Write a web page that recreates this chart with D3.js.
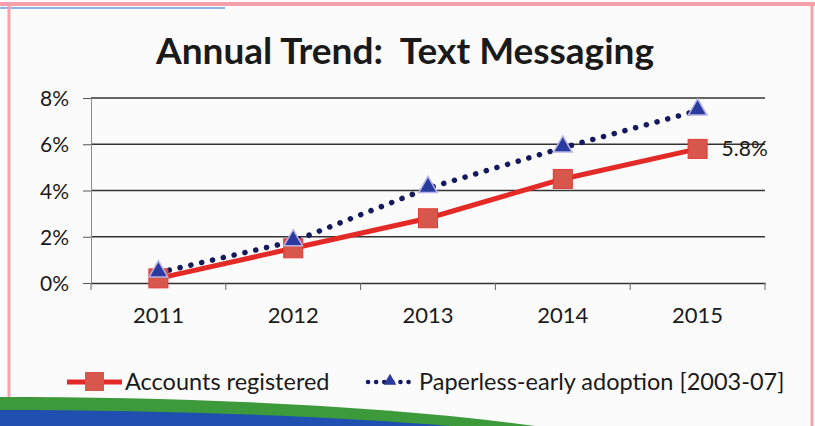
<!DOCTYPE html>
<html>
<head>
<meta charset="utf-8">
<script src="https://cdn.jsdelivr.net/npm/d3@7"></script>
<style>
  body { margin: 0; background: #fbfbfb; }
  svg text { font-family: Lato, "Open Sans", sans-serif; fill: #1a1a1a; }
</style>
</head>
<body>
<div id="chart"></div>
<script>
// chart data
var years = ["2011", "2012", "2013", "2014", "2015"];
var accounts = [0.2, 1.5, 2.8, 4.5, 5.8];
var paperless = [0.45, 1.8, 4.1, 5.85, 7.45];
var yTicks = [0, 2, 4, 6, 8];
var seriesNames = ["Accounts registered", "Paperless-early adoption [2003-07]"];

function init() {
  var w = 815, h = 426;
  var svg = d3.select("#chart").append("svg").attr("width", w).attr("height", h);

  // page background + frame from the photographed slide
  svg.append("rect").attr("width", w).attr("height", h).attr("fill", "#fbfbfb");
  svg.append("line").attr("x1", 0).attr("x2", w).attr("y1", 4).attr("y2", 4)
    .attr("stroke", "#f3a0aa").attr("stroke-width", 4);
  svg.append("line").attr("x1", 0).attr("x2", 225).attr("y1", 8).attr("y2", 8)
    .attr("stroke", "#8ab4e8").attr("stroke-width", 2);
  svg.append("line").attr("x1", 9).attr("x2", 9).attr("y1", 6).attr("y2", h)
    .attr("stroke", "#f3a6b0").attr("stroke-width", 3);
  svg.append("line").attr("x1", 812).attr("x2", 812).attr("y1", 6).attr("y2", h)
    .attr("stroke", "#f3a6b0").attr("stroke-width", 3);

  // green / blue swoosh along the bottom
  svg.append("path")
    .attr("d", "M0,397 C180,397 380,405 535,426 L0,426 Z")
    .attr("fill", "#3d9a3a");
  svg.append("path")
    .attr("d", "M0,410 C160,410 330,416 450,426 L0,426 Z")
    .attr("fill", "#1f4fb0");

  // title (keeps the double space)
  svg.append("text")
    .attr("x", 405).attr("y", 64)
    .attr("text-anchor", "middle")
    .attr("xml:space", "preserve")
    .style("white-space", "pre")
    .style("font-size", "37px").style("font-weight", "bold")
    .text("Annual Trend:  Text Messaging");

  var x = d3.scaleBand().domain(years).range([91, 765]);
  var y = d3.scaleLinear().domain([0, 8]).range([283, 98]);

  // gridlines
  svg.append("g").selectAll("line")
    .data(yTicks.filter(function (d) { return d > 0; }))
    .enter().append("line")
    .attr("x1", 91).attr("x2", 765)
    .attr("y1", function (d) { return y(d); }).attr("y2", function (d) { return y(d); })
    .attr("stroke", "#333").attr("stroke-width", 1.4);

  // y axis
  var yAxis = svg.append("g").attr("transform", "translate(91,0)")
    .call(d3.axisLeft(y).tickValues(yTicks).tickSize(8).tickSizeOuter(0)
      .tickFormat(function (d) { return d + "%"; }));
  yAxis.select(".domain").attr("stroke", "#8a8a9a");
  yAxis.selectAll(".tick line").attr("stroke", "#555");
  yAxis.selectAll("text").style("font-size", "21px").attr("x", -22).attr("dy", "0.36em");

  // x axis
  var xAxis = svg.append("g").attr("transform", "translate(0,283)")
    .call(d3.axisBottom(x).tickSize(0).tickPadding(24));
  xAxis.select(".domain").attr("stroke", "#333").attr("stroke-width", 1.4);
  xAxis.selectAll("text").style("font-size", "22px");
  // tick marks between categories
  var edges = [91].concat(years.map(function (d) { return x(d) + x.bandwidth(); }));
  svg.append("g").selectAll("line").data(edges).enter().append("line")
    .attr("x1", function (d) { return d; }).attr("x2", function (d) { return d; })
    .attr("y1", 283).attr("y2", 290)
    .attr("stroke", "#666");

  var cx = function (d, i) { return x(years[i]) + x.bandwidth() / 2; };

  // accounts line
  var line = d3.line().x(cx).y(function (d) { return y(d); });
  svg.append("path").datum(accounts).attr("d", line)
    .attr("fill", "none").attr("stroke", "#e42a27").attr("stroke-width", 5);

  // paperless dotted line
  svg.append("path").datum(paperless).attr("d", line)
    .attr("fill", "none").attr("stroke", "#151a5e").attr("stroke-width", 5.5)
    .attr("stroke-linecap", "round").attr("stroke-dasharray", "0.1 11");

  // square markers
  var sq = 19;
  svg.append("g").selectAll("rect").data(accounts).enter().append("rect")
    .attr("x", function (d, i) { return cx(d, i) - sq / 2; })
    .attr("y", function (d) { return y(d) - sq / 2; })
    .attr("width", sq).attr("height", sq)
    .attr("fill", "#d8574c").attr("stroke", "#e33a33").attr("stroke-width", 1);

  // triangle markers
  var tri = d3.symbol().type(d3.symbolTriangle).size(150);
  svg.append("g").selectAll("path").data(paperless).enter().append("path")
    .attr("d", tri)
    .attr("transform", function (d, i) { return "translate(" + cx(d, i) + "," + (y(d) - 1) + ")"; })
    .attr("fill", "#2b3a9e").attr("stroke", "#b7b3e6").attr("stroke-width", 1.5);

  // data label for last point
  svg.append("text")
    .attr("x", cx(accounts[4], 4) + 24).attr("y", y(accounts[4]))
    .attr("dy", "0.36em")
    .style("font-size", "21px")
    .text(accounts[4] + "%");

  // legend
  var lg = svg.append("g").attr("transform", "translate(0,382)");
  lg.append("line").attr("x1", 67).attr("x2", 122).attr("y1", 0).attr("y2", 0)
    .attr("stroke", "#e42a27").attr("stroke-width", 5);
  lg.append("rect").attr("x", 85).attr("y", -10).attr("width", 19).attr("height", 19)
    .attr("fill", "#d8574c");
  lg.append("text").attr("x", 125).attr("y", 0).attr("dy", "0.36em")
    .style("font-size", "23.5px").text(seriesNames[0]);
  lg.append("line").attr("x1", 368).attr("x2", 414).attr("y1", 0).attr("y2", 0)
    .attr("stroke", "#151a5e").attr("stroke-width", 4.5)
    .attr("stroke-linecap", "round").attr("stroke-dasharray", "0.1 8");
  lg.append("path").attr("d", d3.symbol().type(d3.symbolTriangle).size(70))
    .attr("transform", "translate(390,-1)").attr("fill", "#2b3a9e");
  lg.append("text").attr("x", 419).attr("y", 0).attr("dy", "0.36em")
    .style("font-size", "23.5px").text(seriesNames[1]);
}

window.onload = init;
</script>
</body>
</html>
